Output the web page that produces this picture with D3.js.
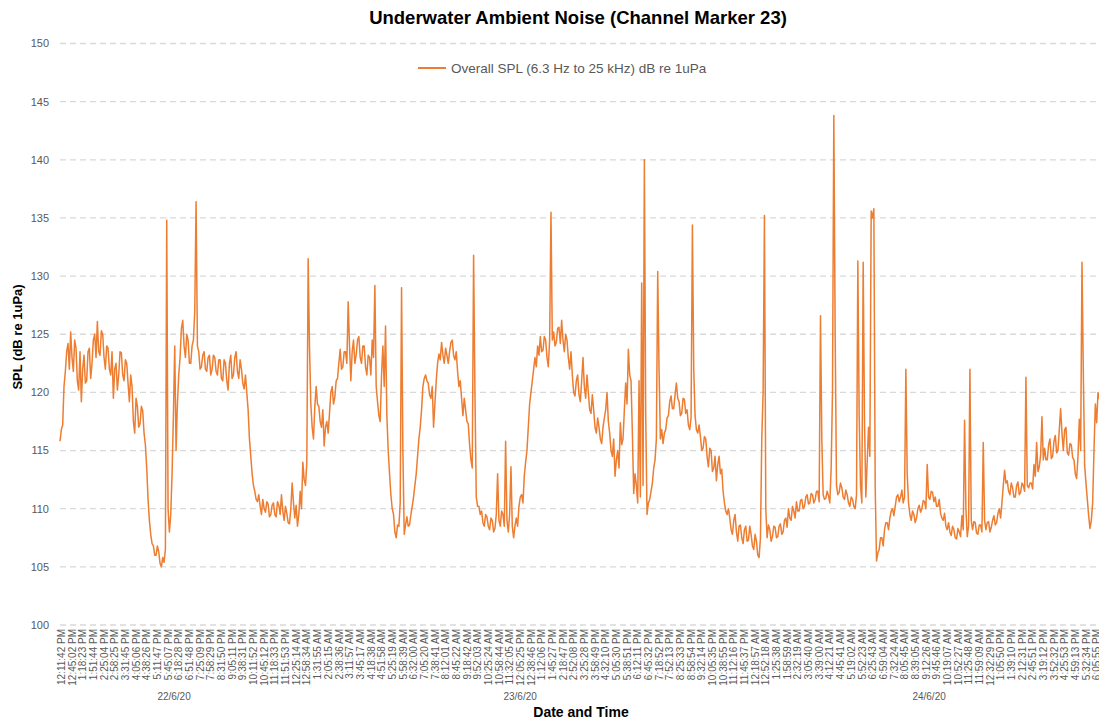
<!DOCTYPE html>
<html>
<head>
<meta charset="utf-8">
<script src="https://cdn.jsdelivr.net/npm/d3@7"></script>
<style>
body { margin: 0; background: #fff; }
svg { display: block; font-family: "Liberation Sans", Arial, sans-serif; }
</style>
</head>
<body>
<div id="d3"></div>
<script>
// SPL readings, 4 samples per time label
var spl = [
  115.8, 117.2, 121.8, 124.2, 125.2, 121.8, 123.8, 120.2, 119.2, 123.2,
  121, 123.8, 122.5, 125, 126.1, 123.2, 125, 122, 123.8, 121.5,
  119.5, 122.5, 121.5, 123.4, 121, 122.5, 119.2, 120.5, 116.5, 118.8,
  117.3, 118.4, 115.5, 110.8, 107.8, 106.8, 106, 106.3, 105, 105.4,
  134.8, 108, 113, 124, 119, 123, 126.2, 123, 124.5, 122.5,
  124.5, 136.4, 123.5, 122.2, 123.5, 121.8, 123.2, 122, 123, 121.5,
  122.8, 121, 122.5, 120.2, 123.2, 121.5, 123.5, 121.2, 122, 120.3,
  120, 116, 113, 111.5, 110.6, 110.2, 110.8, 109.7, 110.4, 109.5,
  110.5, 109.3, 110.3, 111.2, 109, 109.6, 108.7, 112.2, 109.2, 108.5,
  111.5, 114, 112, 131.5, 119, 116, 120.5, 118.8, 117, 115.4,
  117.5, 118.2, 120.5, 119.6, 121.2, 123.7, 122.2, 123.5, 127.8, 121,
  124.5, 123.2, 124.8, 122.5, 124, 121.5, 123, 124.5, 129.2, 119.2,
  117.5, 124, 125.7, 115, 111.2, 109.5, 107.5, 108.5, 129, 107.8,
  109.3, 108.6, 110.2, 112, 114.5, 117, 120.5, 121.5, 120.8, 119.5,
  117, 121, 123.3, 124.3, 122.5, 123.2, 123.5, 124.5, 122.8, 121.8,
  121, 118, 118.5, 117.3, 114.2, 131.8, 111, 110.2, 109.8, 108.5,
  109.3, 108.2, 109, 108.3, 113, 108.5, 109.5, 115.8, 108, 113.6,
  107.5, 109.2, 110.2, 111.2, 112.8, 115, 119, 121, 123, 124,
  124.8, 123.6, 124.5, 122.2, 135.5, 125.2, 124.3, 125.6, 126.2, 123.5,
  124.5, 122, 121.5, 119.7, 121.5, 119.2, 123, 119.5, 120, 118.2,
  118.5, 116.5, 117, 115.6, 117.8, 120, 116.5, 114.5, 112.8, 115,
  117.4, 116, 120.8, 123.7, 121, 111.3, 112, 121, 129.4, 140,
  109.5, 110.8, 112.2, 114.2, 130.4, 116, 115.6, 116.8, 118, 119.7,
  118.6, 120.8, 119.2, 118.2, 119.4, 118.5, 116.8, 134.4, 118, 116.5,
  116.2, 115.2, 116, 113.6, 115, 113.5, 112.4, 114.5, 113.4, 110.5,
  109.5, 109.2, 107.8, 109.5, 107.2, 108.6, 107, 108.5, 107.3, 107.8,
  106.5, 107.2, 105.8, 116, 135.2, 107.5, 108.2, 107.6, 108.4, 107.6,
  108.7, 108, 109.2, 110, 109, 109.8, 110.6, 109.8, 110.8, 110.2,
  111.2, 110.5, 111.2, 110.8, 111.5, 126.6, 111.2, 110.9, 111.1, 113.5,
  143.8, 112, 111.4, 111.8, 110.8, 111.2, 110.2, 110.8, 110, 131.3,
  112, 131.2, 111, 117, 135.6, 135.8, 105.5, 106.5, 107.5, 108.2,
  108.8, 109.2, 110, 110.2, 111.2, 111, 110.5, 122, 110.5, 109,
  109.5, 109.2, 110.3, 110, 110.6, 113.8, 110.8, 111.4, 111, 110.2,
  109.6, 109, 108.5, 108.8, 107.7, 108.2, 107.4, 108, 109.4, 117.6,
  107.6, 122, 108.2, 108.8, 107.8, 108.6, 115.7, 108.2, 108.9, 108.4,
  109.4, 108.8, 110, 110.5, 113.3, 112.4, 111.2, 111.8, 111, 112.3,
  111.4, 112, 121.3, 111.8, 112.2, 113.8, 115.7, 113.6, 117.9, 115.2,
  114.2, 116, 114.5, 116.3, 115, 118.6, 115, 117, 114.6, 115.5,
  114.2, 112.6, 117.7, 131.2, 113.7, 110.8, 108.3, 110.5, 119, 120,
  119, 118.5
];

// in-between readings (other side of the noise band), half a sample later
var splAlt = [
  116.8, 120.5, 123.5, 122, 123, 124.5, 121, 123.5, 122, 120.8,
  123.5, 121.2, 124.5, 123, 123.5, 125.3, 123, 124, 122, 123.5,
  122, 120.2, 123.5, 121.5, 122.8, 120.8, 121.5, 117.5, 119.5, 117,
  118.8, 116.5, 113.5, 109, 107, 106, 106.8, 105.3, 105.8, 106.5,
  110, 109.5, 118, 115, 121.5, 125.5, 124, 125, 122.5, 124,
  127, 124, 122, 123.2, 122, 123, 121.5, 123.2, 121.8, 122.8,
  121.2, 122.8, 121, 122.5, 121.2, 123, 121.8, 122.8, 120.8, 121.5,
  118.5, 114.5, 112, 110.8, 111.2, 109.5, 110, 110.6, 109.3, 110.3,
  109.5, 110.6, 109.5, 109.8, 110.2, 108.8, 110, 110.5, 110.3, 109.5,
  110, 112.5, 114, 124, 117, 118.8, 119, 117.5, 118.5, 117,
  116.5, 120, 119, 121, 122.5, 122, 123.5, 122.5, 124, 123.5,
  122.5, 124.5, 123, 124, 122.2, 123.2, 121.5, 123, 120.5, 118,
  121.5, 120.5, 118, 113, 110, 108, 108.6, 110.5, 115, 108.6,
  108.5, 109.5, 111, 113, 116, 118.5, 121.2, 121, 119.8, 120.5,
  119, 122.5, 122.8, 123.2, 123.8, 122.5, 124.3, 123.2, 123.5, 120.5,
  119.5, 119.5, 117.5, 115.5, 113.5, 120, 110.2, 109.5, 108.8, 109.5,
  108.5, 109.2, 108, 109.5, 109, 109.8, 108.5, 109, 109.5, 108.5,
  108.5, 108.5, 111, 110.5, 114, 117, 120, 122, 122.2, 123.2,
  123.5, 124.8, 123, 124.5, 124.5, 124, 125.5, 124.2, 124.5, 125,
  123, 123.5, 120, 121, 119.8, 121, 120.5, 121.5, 118.5, 119.8,
  117, 117.8, 116, 117, 118.5, 117.5, 115, 116, 114.2, 113.5,
  115.5, 118.5, 119, 121.5, 116.5, 113, 110.5, 111, 112, 118,
  110.5, 111.5, 113.5, 116, 122, 116.8, 116.5, 117.8, 119.2, 118.6,
  119.8, 119.5, 118, 119.5, 118.2, 117.2, 117.8, 122, 116.8, 117.2,
  115, 116.2, 114.5, 115.2, 113.2, 114.5, 113.8, 113, 111.5, 109.8,
  110, 108.2, 109, 108, 108.5, 107.5, 108.2, 107.2, 108.5, 106.8,
  107.8, 106, 107.5, 120, 110, 108.6, 107.2, 108.5, 107.5, 108.5,
  107.8, 109, 108.4, 109.2, 110.2, 109.2, 109.8, 110.7, 110, 111,
  110.4, 111.3, 110.5, 111.5, 110.6, 116, 110.8, 111.5, 110.5, 120,
  125, 111.2, 112.2, 111, 111.6, 110.5, 111, 110.2, 111.2, 118,
  110.5, 117.5, 114, 114.5, 135, 112, 106.2, 107.5, 106.8, 108.8,
  108.2, 109.8, 109.4, 111, 110.6, 111.6, 111, 113, 109.5, 109.8,
  108.8, 110, 109.7, 110.7, 110, 111, 111.5, 110.6, 110.2, 110.8,
  109.2, 109.6, 108.2, 108, 108.5, 107.5, 108.3, 107.6, 108.2, 110,
  108.5, 109, 108.9, 107.9, 108.6, 108, 109, 108.8, 108, 109,
  108.6, 109.6, 109.2, 112, 112.2, 111.5, 112.2, 111, 112, 111.2,
  112.2, 111.5, 112, 112.2, 111.7, 112.8, 113.2, 114.6, 114.2, 114.2,
  115.5, 114.3, 115.8, 114.8, 116.8, 116.5, 116.8, 114.8, 115.6, 114.4,
  113, 114.5, 115, 121.7, 112.2, 109.4, 109, 115, 117.4, 119.5,
  118.2, 119
];

var timeLabels = [
  "12:11:42 PM", "12:45:02 PM", "1:18:23 PM", "1:51:44 PM", "2:25:04 PM", "2:58:25 PM",
  "3:31:45 PM", "4:05:06 PM", "4:38:26 PM", "5:11:47 PM", "5:45:07 PM", "6:18:28 PM",
  "6:51:48 PM", "7:25:09 PM", "7:58:29 PM", "8:31:50 PM", "9:05:11 PM", "9:38:31 PM",
  "10:11:52 PM", "10:45:12 PM", "11:18:33 PM", "11:51:53 PM", "12:25:14 AM", "12:58:34 AM",
  "1:31:55 AM", "2:05:15 AM", "2:38:36 AM", "3:11:57 AM", "3:45:17 AM", "4:18:38 AM",
  "4:51:58 AM", "5:25:19 AM", "5:58:39 AM", "6:32:00 AM", "7:05:20 AM", "7:38:41 AM",
  "8:12:01 AM", "8:45:22 AM", "9:18:42 AM", "9:52:03 AM", "10:25:24 AM", "10:58:44 AM",
  "11:32:05 AM", "12:05:25 PM", "12:38:46 PM", "1:12:06 PM", "1:45:27 PM", "2:18:47 PM",
  "2:52:08 PM", "3:25:28 PM", "3:58:49 PM", "4:32:10 PM", "5:05:30 PM", "5:38:51 PM",
  "6:12:11 PM", "6:45:32 PM", "7:18:52 PM", "7:52:13 PM", "8:25:33 PM", "8:58:54 PM",
  "9:32:14 PM", "10:05:35 PM", "10:38:55 PM", "11:12:16 PM", "11:45:37 PM", "12:18:57 AM",
  "12:52:18 AM", "1:25:38 AM", "1:58:59 AM", "2:32:19 AM", "3:05:40 AM", "3:39:00 AM",
  "4:12:21 AM", "4:45:41 AM", "5:19:02 AM", "5:52:23 AM", "6:25:43 AM", "6:59:04 AM",
  "7:32:24 AM", "8:05:45 AM", "8:39:05 AM", "9:12:26 AM", "9:45:46 AM", "10:19:07 AM",
  "10:52:27 AM", "11:25:48 AM", "11:59:09 AM", "12:32:29 PM", "1:05:50 PM", "1:39:10 PM",
  "2:12:31 PM", "2:45:51 PM", "3:19:12 PM", "3:52:32 PM", "4:25:53 PM", "4:59:13 PM",
  "5:32:34 PM", "6:05:55 PM"
];

var dayLabels = ["22/6/20", "23/6/20", "24/6/20"];
// sample index where each day starts, plus the end of the record
var dayStarts = [0, 85.5, 259.4, 392];

var yTicks = [100, 105, 110, 115, 120, 125, 130, 135, 140, 145, 150];

var seriesName = "Overall SPL (6.3 Hz to 25 kHz) dB re 1uPa";
var orange = "#ED7D31";
var grey = "#595959";
var perLabel = 4;

var svg = d3.select("#d3").append("svg")
    .attr("width", 1099)
    .attr("height", 719);

var x = d3.scaleLinear().domain([0, 392]).range([60, 1106]);
var y = d3.scaleLinear().domain([100, 150]).range([625, 43.5]);

// grid
svg.selectAll("line.grid")
    .data(yTicks).enter()
    .append("line")
    .attr("class", "grid")
    .attr("x1", 60)
    .attr("x2", 1106)
    .attr("y1", function(d) { return y(d); })
    .attr("y2", function(d) { return y(d); })
    .attr("stroke", "#d9d9d9")
    .attr("stroke-width", 1.3)
    .attr("stroke-dasharray", "6,4");

svg.selectAll("text.ytick")
    .data(yTicks).enter()
    .append("text")
    .attr("class", "ytick")
    .attr("x", 49)
    .attr("y", function(d) { return y(d); })
    .attr("dy", "0.35em")
    .attr("text-anchor", "end")
    .attr("font-size", "11px")
    .attr("fill", grey)
    .text(function(d) { return d; });

// time labels, rotated
svg.selectAll("text.xtick")
    .data(timeLabels).enter()
    .append("text")
    .attr("class", "xtick")
    .attr("transform", function(d, i) {
        return "translate(" + (x(i * perLabel) + 1.5) + ",629) rotate(-90)";
    })
    .attr("dy", "0.35em")
    .attr("text-anchor", "end")
    .attr("font-size", "10px")
    .attr("fill", grey)
    .text(function(d) { return d; });

svg.selectAll("text.day")
    .data(dayLabels).enter()
    .append("text")
    .attr("class", "day")
    .attr("x", function(d, i) {
        return (x(dayStarts[i]) + x(dayStarts[i + 1])) / 2;
    })
    .attr("y", 700)
    .attr("text-anchor", "middle")
    .attr("font-size", "10px")
    .attr("fill", grey)
    .text(function(d) { return d; });

// the series: each sample followed by its in-between reading
var pts = [];
spl.forEach(function(v, i) {
    pts.push([i, v]);
    pts.push([i + 0.5, splAlt[i]]);
});

var line = d3.line()
    .x(function(d) { return x(d[0]); })
    .y(function(d) { return y(d[1]); });

svg.append("path")
    .datum(pts)
    .attr("d", line)
    .attr("fill", "none")
    .attr("stroke", orange)
    .attr("stroke-width", 1.5)
    .attr("stroke-linejoin", "round");

// titles
svg.append("text")
    .attr("x", 578)
    .attr("y", 24)
    .attr("text-anchor", "middle")
    .attr("font-size", "18.5px")
    .attr("font-weight", "bold")
    .attr("fill", "#000")
    .text("Underwater Ambient Noise (Channel Marker 23)");

svg.append("text")
    .attr("transform", "translate(22,337) rotate(-90)")
    .attr("text-anchor", "middle")
    .attr("font-size", "13px")
    .attr("font-weight", "bold")
    .attr("fill", "#000")
    .text("SPL (dB re 1uPa)");

svg.append("text")
    .attr("x", 581)
    .attr("y", 717)
    .attr("text-anchor", "middle")
    .attr("font-size", "14px")
    .attr("font-weight", "bold")
    .attr("fill", "#000")
    .text("Date and Time");

// legend
svg.append("line")
    .attr("x1", 418)
    .attr("x2", 446)
    .attr("y1", 68)
    .attr("y2", 68)
    .attr("stroke", orange)
    .attr("stroke-width", 2);

svg.append("text")
    .attr("x", 451)
    .attr("y", 72.5)
    .attr("font-size", "13.5px")
    .attr("fill", grey)
    .text(seriesName);
</script>
</body>
</html>
